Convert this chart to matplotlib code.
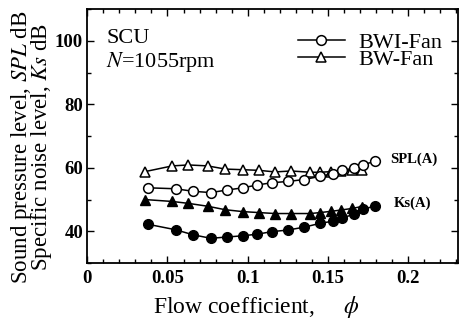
import numpy as np
import matplotlib
matplotlib.use('Agg')
from matplotlib import pyplot as plt

plt.rcParams['font.family'] = ['Liberation Serif', 'DejaVu Serif']
plt.rcParams['mathtext.fontset'] = 'stix'

# Dados
phi_bwi = [0.038, 0.055, 0.066, 0.077, 0.087, 0.097, 0.106, 0.115,
           0.125, 0.135, 0.145, 0.153, 0.159, 0.166, 0.172, 0.179]
spl_bwi = [53.7, 53.4, 52.6, 52.2, 53.0, 53.7, 54.6, 55.3,
           55.7, 56.3, 57.3, 58.1, 59.2, 59.9, 61.0, 62.0]
ks_bwi = [42.2, 40.5, 38.9, 37.8, 38.2, 38.6, 39.1, 39.9,
          40.4, 41.3, 42.5, 43.2, 44.3, 45.3, 46.9, 48.0]

phi_bw = [0.036, 0.053, 0.063, 0.075, 0.086, 0.097, 0.107, 0.117,
          0.127, 0.139, 0.145, 0.152, 0.158, 0.165, 0.171]
spl_bw = [58.8, 60.6, 60.9, 60.6, 59.6, 59.4, 59.2, 58.7,
          59.0, 58.6, 58.6, 58.8, 59.1, 59.2, 59.2]
ks_bw = [50.0, 49.4, 48.8, 47.9, 46.8, 46.2, 45.9, 45.6,
         45.6, 45.6, 45.9, 46.3, 46.7, 47.2, 47.8]

fig = plt.figure(figsize=(4.59, 3.22), dpi=100)
ax = fig.add_axes([0.190, 0.183, 0.808, 0.789])

lw = 1.1
ms = 7
ax.plot(phi_bw, spl_bw, '-^', color='black', lw=lw, ms=ms + 0.5,
        mfc='white', mec='black', mew=1.1, label='BW-Fan', zorder=3)
ax.plot(phi_bwi, spl_bwi, '-o', color='black', lw=lw, ms=ms,
        mfc='white', mec='black', mew=1.1, label='BWI-Fan', zorder=3)
ax.plot(phi_bw, ks_bw, '-^', color='black', lw=lw, ms=ms + 0.5,
        mfc='black', mec='black', zorder=3)
ax.plot(phi_bwi, ks_bwi, '-o', color='black', lw=lw, ms=ms,
        mfc='black', mec='black', zorder=3)

ax.set_xlim(0, 0.231)
ax.set_ylim(30, 110)
ax.set_xticks([0, 0.05, 0.1, 0.15, 0.2])
ax.set_xticklabels(['0', '0.05', '0.1', '0.15', '0.2'])
ax.set_xticks(np.arange(0, 0.231, 0.01), minor=True)
ax.set_yticks([40, 60, 80, 100])
ax.set_yticks(np.arange(30, 111, 10), minor=True)
ax.tick_params(which='both', direction='in', top=True, right=True,
               width=1.0, labelsize=13.5)
ax.tick_params(which='major', length=5)
ax.tick_params(which='minor', length=3)
ax.tick_params(axis='x', pad=5)
ax.tick_params(axis='y', pad=3)
for lbl in ax.get_xticklabels() + ax.get_yticklabels():
    lbl.set_fontweight('bold')
for s in ax.spines.values():
    s.set_linewidth(1.3)

# rótulos dos eixos
fig.text(256 / 459, 1 - 307 / 322, r'Flow coefficient,     $\phi$',
         fontsize=17, ha='center', va='center')
fig.text(31.5 / 459, 1 - 147 / 322,
         'Sound pressure level, $SPL$ dB\nSpecific noise level, $Ks$ dB',
         fontsize=16.5, rotation=90, ha='center', va='center',
         linespacing=0.72)

ax.text(0.012, 100.6, 'SCU', fontsize=16, va='center')
ax.text(0.012, 93.4, '$N$=1055rpm', fontsize=16, va='center')
ax.text(0.1885, 62.6, 'SPL(A)', fontsize=10.5, fontweight='bold', va='center')
ax.text(0.191, 48.8, 'Ks(A)', fontsize=10.5, fontweight='bold', va='center')

handles, labels = ax.get_legend_handles_labels()
ax.legend(handles[::-1], labels[::-1], loc='upper right', frameon=False,
          fontsize=16, handlelength=2.1, handletextpad=0.6,
          labelspacing=-0.15, borderaxespad=0.0, borderpad=0.15,
          bbox_to_anchor=(0.966, 0.922))

fig.savefig('out.png', dpi=100)
